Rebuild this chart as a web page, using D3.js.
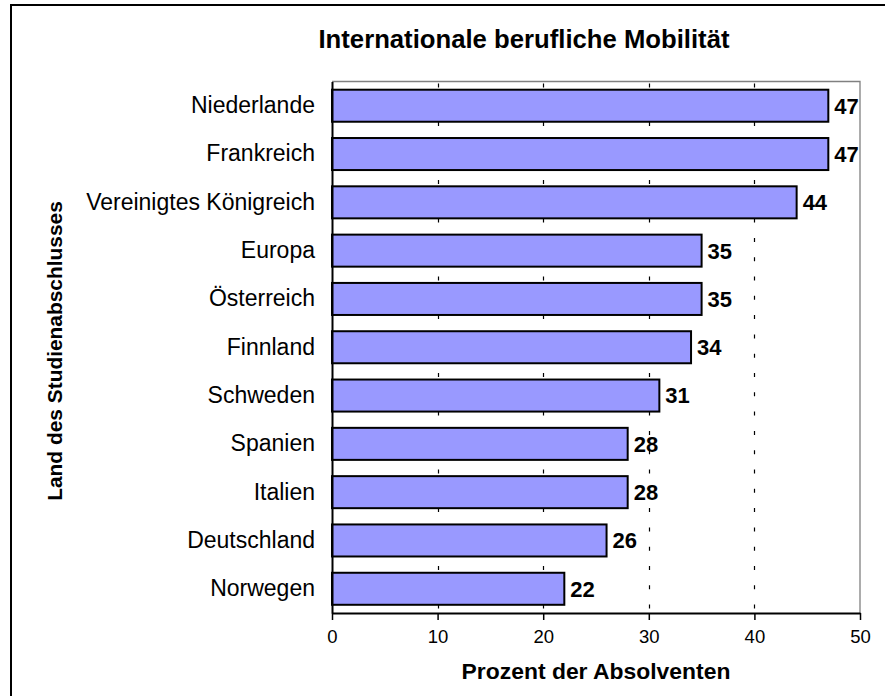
<!DOCTYPE html>
<html><head><meta charset="utf-8">
<script src="https://cdn.jsdelivr.net/npm/d3@7"></script>
<style>body{margin:0;background:#fff}svg{display:block;font-family:"Liberation Sans",Arial,sans-serif}</style>
</head><body>
<svg id="c" width="885" height="696"></svg>
<script>
const categories = ["Niederlande","Frankreich","Vereinigtes Königreich","Europa","Österreich","Finnland","Schweden","Spanien","Italien","Deutschland","Norwegen"];
const values = [47,47,44,35,35,34,31,28,28,26,22];
const xTicks = [0,10,20,30,40,50];
const gridTicks = [10,20,30,40];
const title = "Internationale berufliche Mobilität";
const xTitle = "Prozent der Absolventen";
const yTitle = "Land des Studienabschlusses";

const svg = d3.select("#c");
const L = 332, R = 860, T = 81.5, B = 613;
const x = d3.scaleLinear().domain([0,50]).range([L,R]);
const y = d3.scaleBand().domain(categories).range([T,B]).paddingInner(0.337).paddingOuter(0.17);

// outer frame
svg.append("rect").attr("x",11).attr("y",5).attr("width",900).attr("height",720)
  .attr("fill","none").attr("stroke","#000").attr("stroke-width",2);

// plot frame (gray top/right)
svg.append("path").attr("d",`M${L},${T}H${R}V${B}`).attr("fill","none").attr("stroke","#808080").attr("stroke-width",1.3);

// gridlines
svg.append("g").selectAll("line").data(gridTicks).join("line")
  .attr("x1",d=>Math.round(x(d))+0.5).attr("x2",d=>Math.round(x(d))+0.5)
  .attr("y1",T).attr("y2",B)
  .attr("stroke","#000").attr("stroke-width",1.2)
  .attr("stroke-dasharray","4,15.3").attr("stroke-dashoffset",-2);

// bars
svg.append("g").selectAll("rect").data(categories).join("rect")
  .attr("x",x(0)).attr("y",d=>y(d)).attr("width",(d,i)=>x(values[i])-x(0)).attr("height",y.bandwidth())
  .attr("fill","#9999FF").attr("stroke","#000").attr("stroke-width",2);

// value labels
svg.append("g").selectAll("text").data(categories).join("text")
  .attr("x",(d,i)=>x(values[i])+6).attr("y",d=>y(d)+y.bandwidth()/2).attr("dy","0.36em")
  .attr("font-weight","bold").attr("font-size",22).text((d,i)=>values[i]);

// x axis
const xa = svg.append("g").attr("transform",`translate(0,${B})`)
  .call(d3.axisBottom(x).tickValues(xTicks).tickSize(7).tickSizeOuter(0).tickPadding(10));
xa.select(".domain").attr("stroke","#000").attr("stroke-width",2);
xa.selectAll(".tick line").attr("stroke","#000").attr("stroke-width",1.5);
xa.selectAll(".tick text").attr("font-size",18.5).attr("font-family","Liberation Sans, Arial, sans-serif").attr("fill","#000");

// y axis
const ya = svg.append("g").attr("transform",`translate(${L},0)`)
  .call(d3.axisLeft(y).tickSize(0).tickPadding(17));
ya.select(".domain").attr("stroke","#000").attr("stroke-width",2);
ya.selectAll(".tick text").attr("font-size",23).attr("font-family","Liberation Sans, Arial, sans-serif").attr("fill","#000");

// titles
svg.append("text").attr("x",524).attr("y",48).attr("text-anchor","middle")
  .attr("font-weight","bold").attr("font-size",25.7).text(title);
svg.append("text").attr("x",(L+R)/2).attr("y",679).attr("text-anchor","middle")
  .attr("font-weight","bold").attr("font-size",22.9).text(xTitle);
svg.append("text").attr("transform","translate(62,351) rotate(-90)").attr("text-anchor","middle")
  .attr("font-weight","bold").attr("font-size",20.9).text(yTitle);
</script>
</body></html>
